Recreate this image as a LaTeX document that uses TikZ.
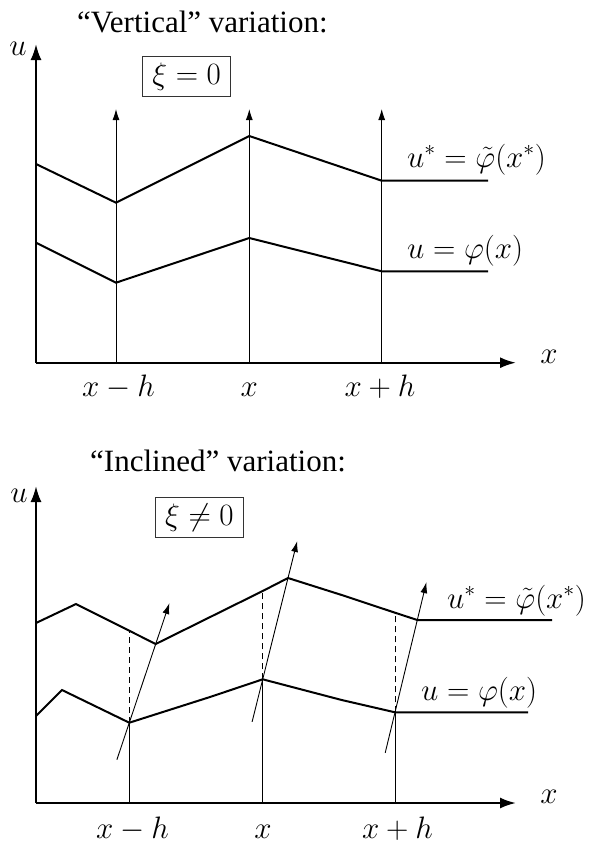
\RequirePackage{fix-cm}
\documentclass[tikz,border=0pt]{standalone}
\usepackage[no-math]{fontspec}
\setmainfont{Liberation Serif}
\usetikzlibrary{arrows.meta,calc}
\begin{document}
\begin{tikzpicture}[x=1pt,y=-1pt,
  axis/.style={line width=2.2pt,-{Latex[length=16pt,width=11pt]}},
  curve/.style={line width=2pt,line join=miter},
  thinline/.style={line width=0.9pt},
  varrow/.style={line width=0.9pt,-{Latex[length=11pt,width=7pt]}},
  dashline/.style={line width=0.9pt,dash pattern=on 6pt off 4pt},
  mlabel/.style={font=\fontsize{31}{37}\selectfont,inner sep=0pt},
  titlelabel/.style={font=\fontsize{31}{37}\selectfont,inner sep=0pt},
  xibox/.style={draw=black!80,line width=1pt,minimum width=88pt,minimum height=40pt,inner sep=0pt,font=\fontsize{31}{37}\selectfont}]
\useasboundingbox (0,0) rectangle (591,846);

% ================= TOP PANEL =================
\node[titlelabel,anchor=base west] (t1) at (77,32) {``Vertical'' variation:};
\coordinate (O1) at (36,362.7);
\coordinate (Y1) at (36,44);
\coordinate (X1) at (516,362.7);
\draw[axis] (O1) -- (Y1);
\draw[axis] (O1) -- (X1);
\node[mlabel,anchor=base] (u1) at (18,55) {$u$};
\node[mlabel,anchor=base] (x1) at (549,363) {$x$};
\node[xibox] (b1) at (186.7,76.7) {$\xi=0$};

% vertical arrows
\coordinate (A1b) at (116,362.7);   \coordinate (A1t) at (116,109);
\coordinate (A2b) at (249.3,362.7); \coordinate (A2t) at (249.3,109);
\coordinate (A3b) at (381.7,362.7); \coordinate (A3t) at (381.7,109);
\draw[varrow] (A1b) -- (A1t);
\draw[varrow] (A2b) -- (A2t);
\draw[varrow] (A3b) -- (A3t);

% curves
\draw[curve] (36,164) -- (116,202.7) -- (249.3,136) -- (381.7,180.7) -- (488,180.7);
\draw[curve] (36,242.7) -- (116,282.7) -- (249.3,238) -- (381.7,271.3) -- (488,271.3);

\node[mlabel,anchor=base west] (c1) at (407,167) {$u^*=\tilde\varphi(x^*)$};
\node[mlabel,anchor=base west] (d1) at (407,258) {$u=\varphi(x)$};

\node[mlabel,anchor=base] (k1) at (118.5,396) {$x-h$};
\node[mlabel,anchor=base] (k2) at (249.3,396) {$x$};
\node[mlabel,anchor=base] (k3) at (380,396) {$x+h$};

% ================= BOTTOM PANEL =================
\node[titlelabel,anchor=base west] (t2) at (90,471) {``Inclined'' variation:};
\coordinate (O2) at (36,803);
\coordinate (Y2) at (36,486);
\coordinate (X2) at (516,803);
\draw[axis] (O2) -- (Y2);
\draw[axis] (O2) -- (X2);
\node[mlabel,anchor=base] (u2) at (19,502) {$u$};
\node[mlabel,anchor=base] (x2) at (549,803) {$x$};
\node[xibox] (b2) at (199.5,517.8) {$\xi\neq0$};

% key points
\coordinate (L1) at (129.3,722.7); \coordinate (U1) at (155.7,644);
\coordinate (L2) at (262.7,679.3); \coordinate (U2) at (288,578);
\coordinate (L3) at (395,712.3);   \coordinate (U3) at (417.3,620);
\coordinate (D1) at (129.3,631);
\coordinate (D2) at (262.7,591);
\coordinate (D3) at (395,612.7);
\coordinate (B1) at (129.3,803);
\coordinate (B2) at (262.7,803);
\coordinate (B3) at (395,803);

% thin verticals from axis to lower curve
\draw[thinline] (B1) -- (L1);
\draw[thinline] (B2) -- (L2);
\draw[thinline] (B3) -- (L3);
% dashed verticals
\draw[dashline] (L1) -- (D1);
\draw[dashline] (L2) -- (D2);
\draw[dashline] (L3) -- (D3);

% curves
\draw[curve] (36,623) -- (76,604) -- (U1) -- (D2) -- (U2) -- (341.7,595) -- (D3) -- (U3) -- (552,620);
\draw[curve] (36,716) -- (62,690) -- (L1) -- (210,697) -- (L2) -- (341.7,700) -- (L3) -- (528,712.3);

% inclined arrows
\draw[varrow] ($(L1)!-0.47!(U1)$) -- ($(L1)!1.52!(U1)$);
\draw[varrow] ($(L2)!-0.42!(U2)$) -- ($(L2)!1.365!(U2)$);
\draw[varrow] ($(L3)!-0.44!(U3)$) -- ($(L3)!1.41!(U3)$);

\node[mlabel,anchor=base west] (c2) at (447,608) {$u^*=\tilde\varphi(x^*)$};
\node[mlabel,anchor=base west] (d2) at (421,700) {$u=\varphi(x)$};

\node[mlabel,anchor=base] (m1) at (132.5,838) {$x-h$};
\node[mlabel,anchor=base] (m2) at (263,838) {$x$};
\node[mlabel,anchor=base] (m3) at (397.5,838) {$x+h$};
\end{tikzpicture}
\end{document}
